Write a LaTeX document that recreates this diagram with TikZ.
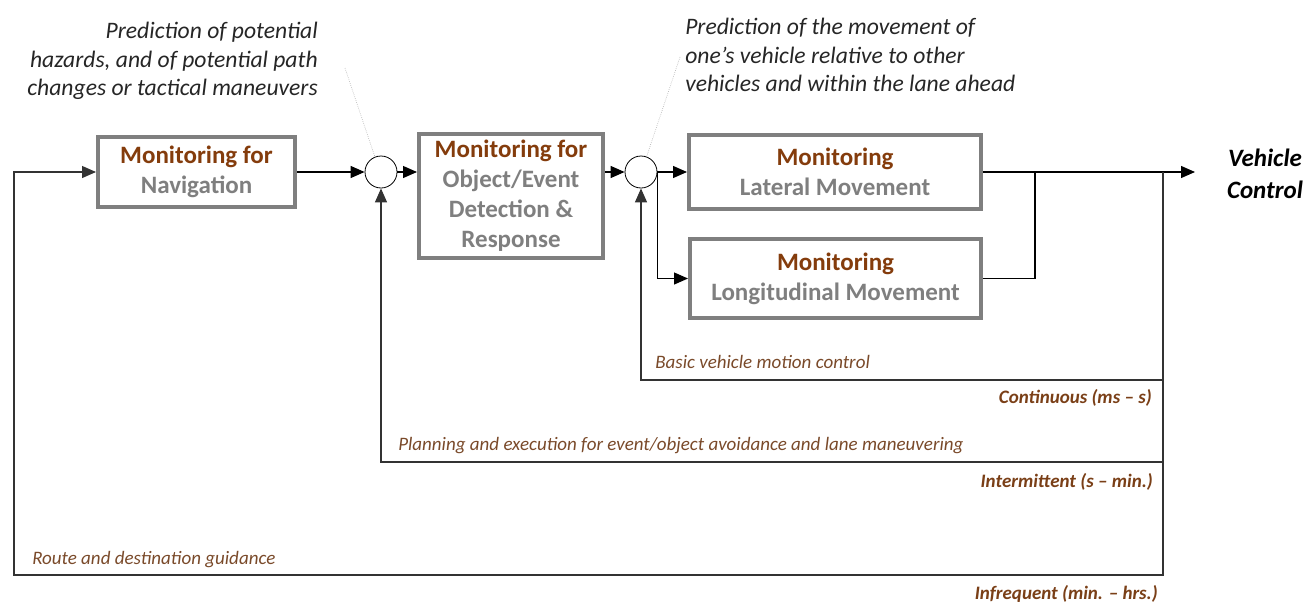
\documentclass[tikz,border=0pt]{standalone}
\usepackage{fontspec}
\setmainfont{Carlito}
\usetikzlibrary{arrows.meta}
\usetikzlibrary{positioning}
\definecolor{monbrown}{HTML}{843C0C}
\definecolor{labbrown}{HTML}{7A4A2A}
\definecolor{ratebrown}{HTML}{7A3F17}
\definecolor{boxgray}{HTML}{7F7F7F}
\definecolor{notegray}{HTML}{262626}
\newcommand{\montxt}[1]{{\color{monbrown}#1}}
\tikzset{node distance=2.5cm,
    monitor/.style={
        draw=boxgray,
        line width=3pt,
        fill=white,
        inner sep=0pt,
        align=center,
        text=boxgray,
        font=\fontsize{18.75pt}{22.5pt}\selectfont\bfseries},
    junction/.style={
        circle,
        draw,
        semithick,
        fill=white,
        inner sep=0pt,
        minimum size=24pt},
    flow/.style={
        draw,
        line width=0.9pt,
        -{Triangle[length=10.5pt,width=9pt]}},
    wire/.style={
        draw,
        line width=0.9pt},
    loop/.style={
        draw=black!80,
        line width=0.9pt,
        -{Triangle[length=10.5pt,width=9pt]}},
    lead/.style={
        draw=gray!60,
        line width=0.5pt,
        densely dotted},
    note/.style={
        inner sep=0pt,
        text=notegray,
        font=\fontsize{17.7pt}{21.4pt}\selectfont\itshape},
    looplabel/.style={
        inner sep=0pt,
        text=labbrown,
        font=\fontsize{14.25pt}{17pt}\selectfont\itshape},
    rate/.style={
        inner sep=0pt,
        anchor=base east,
        text=ratebrown,
        font=\fontsize{14.25pt}{17pt}\selectfont\bfseries\itshape},
    output/.style={
        inner sep=0pt,
        align=center,
        font=\fontsize{18.75pt}{24pt}\selectfont\bfseries\itshape}}

\begin{document}
\begin{tikzpicture}[x=0.75pt,y=-0.75pt]
        \useasboundingbox (0,0) rectangle (1309,603);
        % boxes and summing points
        \node[monitor, minimum width=147.75pt, minimum height=52.5pt] (nav) at (196.5,172) {\montxt{Monitoring for}\\Navigation};
        \node[junction] (c1) at (381,172) {};
        \node[monitor, minimum width=138pt, minimum height=93pt] (obj) at (511,196) {\montxt{Monitoring for}\\Object/Event\\Detection \&\\Response};
        \node[junction] (c2) at (641,172) {};
        \node[monitor, minimum width=219pt, minimum height=55.5pt] (lat) at (835,172) {\montxt{Monitoring}\\Lateral Movement};
        \node[monitor, minimum width=218.25pt, minimum height=59.25pt] (lon) at (835.5,278.5) {\montxt{Monitoring}\\Longitudinal Movement};
        \node[output, anchor=north] (veh) at (1265,149) {Vehicle\\Control};

        \coordinate (join) at (1035,172);
        \coordinate (tap) at (1163,172);
        \coordinate (out) at (1195,172);
        \coordinate (basic) at (1163,380);
        \coordinate (plan) at (1163,462);
        \coordinate (route) at (14,575);

        % forward path
        \draw[flow] (nav) -- (c1);
        \draw[flow] (c1) -- (c1 -| obj.west);
        \draw[flow] (obj.east |- c2) -- (c2);
        \draw[flow] (c2) -- (lat);
        \draw[flow] (c2.east) |- (lon.west);
        \draw[flow] (lat) -- (out);
        \draw[wire] (lon) -| (join);

        % feedback loops
        \draw[loop] (tap) |- (route) |- (nav);
        \draw[loop] (basic) -| (c2);
        \draw[loop] (plan) -| (c1);

        % notes
        \node[note, anchor=north east, align=right] (hazard) at (318,22) {Prediction of potential\\hazards, and of potential path\\changes or tactical maneuvers};
        \node[note, anchor=north west, align=left] (ahead) at (685,18) {Prediction of the movement of\\one’s vehicle relative to other\\vehicles and within the lane ahead};
        \coordinate (hint1) at (345,68);
        \coordinate (hint2) at (680,57);
        \draw[lead] (hint1) -- (c1.112);
        \draw[lead] (hint2) -- (c2.70);

        % loop labels
        \node[looplabel, anchor=base west] (lbasic) at (655,368) {Basic vehicle motion control};
        \node[rate] (rbasic) at (1152,403) {Continuous (ms -- s)};
        \node[looplabel, anchor=base west] (lplan) at (398,450) {Planning and execution for event/object avoidance and lane maneuvering};
        \node[rate] (rplan) at (1153,487) {Intermittent (s -- min.)};
        \node[looplabel, anchor=base west] (lroute) at (32,564) {Route and destination guidance};
        \node[rate] (rroute) at (1158,599) {Infrequent (min. -- hrs.)};
    \end{tikzpicture}
\end{document}
